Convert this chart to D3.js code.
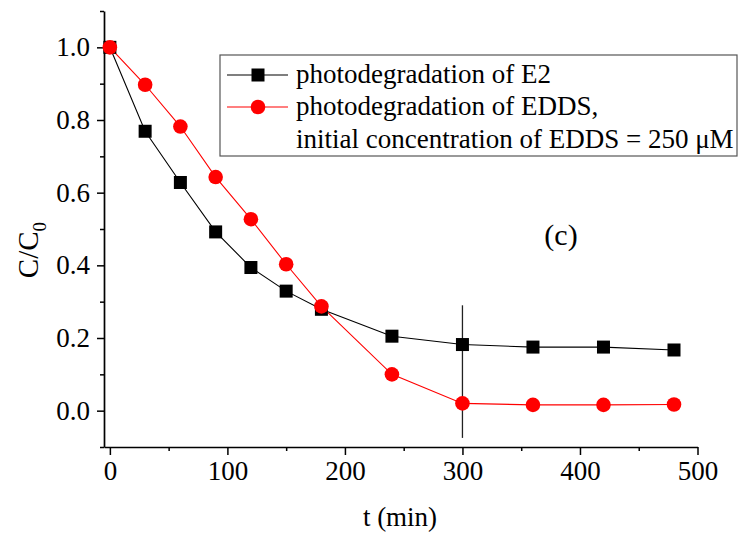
<!DOCTYPE html>
<html><head><meta charset="utf-8">
<script src="https://cdn.jsdelivr.net/npm/d3@7/dist/d3.min.js"></script>
<style>
html,body{margin:0;padding:0;background:#fff;}
svg text{font-family:"Liberation Serif","Times New Roman",Times,"DejaVu Serif",serif !important;fill:#000;}
</style></head>
<body><svg id="c" width="745" height="541"></svg>
<script>
const times = [0, 30, 60, 90, 120, 150, 180, 240, 300, 360, 420, 480];
const e2Values = [1.0, 0.769, 0.628, 0.492, 0.394, 0.329, 0.279, 0.205, 0.182, 0.175, 0.175, 0.167];
const eddsValues = [1.0, 0.897, 0.782, 0.643, 0.527, 0.403, 0.287, 0.100, 0.020, 0.016, 0.016, 0.017];
const xMajorTicks = [0, 100, 200, 300, 400, 500];
const xMinorTicks = [50, 150, 250, 350, 450];
const yMajorTicks = [0.0, 0.2, 0.4, 0.6, 0.8, 1.0];
const yMinorTicks = [-0.1, 0.1, 0.3, 0.5, 0.7, 0.9, 1.1];
const seriesNames = ["photodegradation of E2", "photodegradation of EDDS,"];
const legendExtra = "initial concentration of EDDS = 250 \u03bcM";
const markLineT = [300];
const markLineY = [0.29, -0.075];

const svg = d3.select("#c");
const x = d3.scaleLinear().domain([-5, 500]).range([104, 697.5]);
const y = d3.scaleLinear().domain([-0.1, 1.1]).range([447, 11]);
const FS = 27;
const FF = '"Liberation Serif","Times New Roman",Times,"DejaVu Serif",serif';

// x axis
const gx = svg.append("g").attr("transform", `translate(0,${y(-0.1)})`);
gx.call(d3.axisBottom(x).tickValues(xMajorTicks).tickSize(8).tickSizeOuter(0).tickPadding(6).tickFormat(d3.format("d")));
const gxm = svg.append("g").attr("transform", `translate(0,${y(-0.1)})`);
gxm.call(d3.axisBottom(x).tickValues(xMinorTicks).tickSize(4).tickSizeOuter(0).tickFormat(""));
gxm.select(".domain").remove();

// y axis
const gy = svg.append("g").attr("transform", `translate(${x(-5)},0)`);
gy.call(d3.axisLeft(y).tickValues(yMajorTicks).tickSize(7).tickSizeOuter(0).tickPadding(7).tickFormat(d3.format(".1f")));
const gym = svg.append("g").attr("transform", `translate(${x(-5)},0)`);
gym.call(d3.axisLeft(y).tickValues(yMinorTicks).tickSize(4).tickSizeOuter(0).tickFormat(""));
gym.select(".domain").remove();

svg.selectAll("g").attr("font-family", FF);
svg.selectAll(".domain").attr("stroke", "#000").attr("stroke-width", 1.7);
svg.selectAll(".tick line").attr("stroke", "#000").attr("stroke-width", 1.5);
svg.selectAll(".tick text").attr("font-size", FS).attr("fill", "#000");

// lines
const lineGen = (vals) => d3.line().x((d, i) => x(times[i])).y(d => y(d))(vals);
svg.append("path").attr("d", lineGen(e2Values)).attr("fill", "none").attr("stroke", "#000").attr("stroke-width", 1.1);
svg.append("path").attr("d", lineGen(eddsValues)).attr("fill", "none").attr("stroke", "#ff0000").attr("stroke-width", 1.1);

// vertical marker line
svg.append("line").attr("x1", x(markLineT[0])).attr("x2", x(markLineT[0]))
  .attr("y1", y(markLineY[0])).attr("y2", y(markLineY[1]))
  .attr("stroke", "#222").attr("stroke-width", 1.3);

// markers
const SQ = 13, R = 7.3;
svg.append("g").selectAll("rect").data(e2Values).join("rect")
  .attr("x", (d, i) => x(times[i]) - SQ / 2).attr("y", d => y(d) - SQ / 2)
  .attr("width", SQ).attr("height", SQ).attr("fill", "#000");
svg.append("g").selectAll("circle").data(eddsValues).join("circle")
  .attr("cx", (d, i) => x(times[i])).attr("cy", d => y(d)).attr("r", R).attr("fill", "#ff0000");

// legend
const lg = svg.append("g").attr("font-family", FF);
lg.append("rect").attr("x", 220).attr("y", 55).attr("width", 517).attr("height", 101)
  .attr("fill", "#fff").attr("stroke", "#555").attr("stroke-width", 1.2);
const rows = [75, 107];
const colors = ["#000", "#ff0000"];
rows.forEach((ry, i) => {
  lg.append("line").attr("x1", 227).attr("x2", 288).attr("y1", ry).attr("y2", ry).attr("stroke", colors[i]).attr("stroke-width", 1.1);
  if (i === 0) lg.append("rect").attr("x", 258 - SQ / 2).attr("y", ry - SQ / 2).attr("width", SQ).attr("height", SQ).attr("fill", "#000");
  else lg.append("circle").attr("cx", 258).attr("cy", ry).attr("r", R).attr("fill", "#ff0000");
  lg.append("text").attr("x", 296).attr("y", ry + 8).attr("font-size", FS).text(seriesNames[i]);
});
lg.append("text").attr("x", 296).attr("y", 148).attr("font-size", FS).text(legendExtra);

// annotation
svg.append("text").attr("x", 561).attr("y", 245).attr("text-anchor", "middle").attr("font-size", 30).attr("font-family", FF).text("(c)");

// axis titles
svg.append("text").attr("x", 400).attr("y", 526).attr("text-anchor", "middle").attr("font-size", FS).attr("font-family", FF).text("t (min)");
const yl = svg.append("text").attr("transform", "translate(38,250) rotate(-90)").attr("text-anchor", "middle").attr("font-size", 29).attr("font-family", FF);
yl.append("tspan").text("C/C");
yl.append("tspan").attr("font-size", 19).attr("dy", 8).text("0");
</script></body></html>
